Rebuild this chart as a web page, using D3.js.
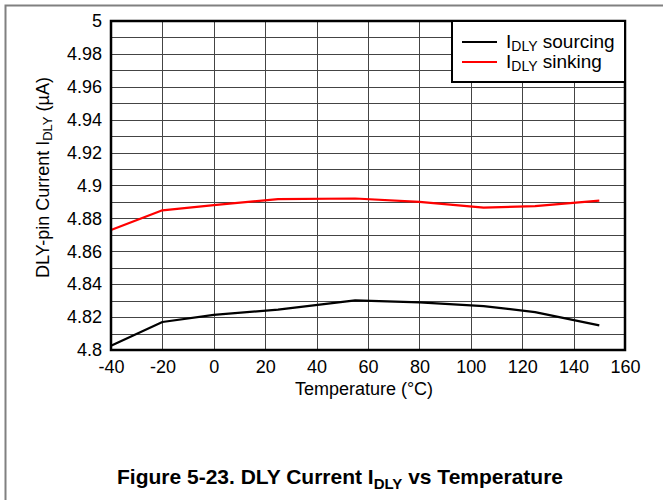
<!DOCTYPE html>
<html>
<head>
<meta charset="utf-8">
<script src="https://cdn.jsdelivr.net/npm/d3@7/dist/d3.min.js"></script>
<style>
  html, body { margin: 0; padding: 0; background: #fff; }
  svg { display: block; font-family: "Liberation Sans", Arial, sans-serif; }
</style>
</head>
<body>
<svg id="chart" width="663" height="500"></svg>
<script>
// Temperature sweep points (°C)
const temps = [-40, -20, 0, 25, 55, 80, 105, 125, 150];
// DLY pin current (µA)
const sourcing = [4.8026, 4.8170, 4.8214, 4.8245, 4.8302, 4.8290, 4.8267, 4.8230, 4.8150];
const sinking  = [4.8729, 4.8849, 4.8881, 4.8917, 4.8921, 4.8901, 4.8865, 4.8875, 4.8908];
// Axis ticks
const xTicks = [-40, -20, 0, 20, 40, 60, 80, 100, 120, 140, 160];
const yTicks = [4.8, 4.82, 4.84, 4.86, 4.88, 4.9, 4.92, 4.94, 4.96, 4.98, 5];
const yGrid = d3.range(0, 21).map(i => +(4.8 + i * 0.01).toFixed(2));
const seriesNames = ["sourcing", "sinking"];
const seriesColors = ["#000000", "#ff0000"];

const FONT = "Liberation Sans, Arial, sans-serif";
const svg = d3.select("#chart");
const plot = { left: 111, right: 625, top: 21, bottom: 350 };

const x = d3.scaleLinear().domain([-40, 160]).range([plot.left, plot.right]);
const y = d3.scaleLinear().domain([4.8, 5]).range([plot.bottom, plot.top]);

// Outer figure frame (left and top edges)
svg.append("path")
  .attr("d", "M5.5,500 V5.5 H663")
  .attr("fill", "none").attr("stroke", "#808080").attr("stroke-width", 2);

// Grid
const grid = svg.append("g");
grid.selectAll("line.h").data(yGrid).join("line")
  .attr("x1", plot.left).attr("x2", plot.right)
  .attr("y1", d => Math.round(y(d)) + 0.5).attr("y2", d => Math.round(y(d)) + 0.5)
  .attr("stroke", "#444").attr("stroke-width", 1);
grid.selectAll("line.v").data(xTicks).join("line")
  .attr("y1", plot.top).attr("y2", plot.bottom)
  .attr("x1", d => Math.round(x(d)) + 0.5).attr("x2", d => Math.round(x(d)) + 0.5)
  .attr("stroke", "#444").attr("stroke-width", 1);

// Axes (labels only; the frame is drawn separately)
const xAxis = svg.append("g")
  .attr("transform", `translate(0,${plot.bottom})`)
  .call(d3.axisBottom(x).tickValues(xTicks).tickSize(0).tickPadding(10)
    .tickFormat(d => String(d)));
xAxis.select(".domain").remove();
xAxis.selectAll("text").attr("font-size", 18).attr("fill", "#000").attr("font-family", FONT);

const yAxis = svg.append("g")
  .attr("transform", `translate(${plot.left},0)`)
  .call(d3.axisLeft(y).tickValues(yTicks).tickSize(0).tickPadding(9)
    .tickFormat(d => String(+d.toFixed(2))));
yAxis.select(".domain").remove();
yAxis.selectAll("text").attr("font-size", 18).attr("fill", "#000").attr("font-family", FONT);

// Data lines
const line = d3.line().x((d, i) => x(temps[i])).y(d => y(d));
[sourcing, sinking].forEach((vals, k) => {
  svg.append("path").datum(vals)
    .attr("d", line)
    .attr("fill", "none")
    .attr("stroke", seriesColors[k])
    .attr("stroke-width", 2.2)
    .attr("stroke-linejoin", "round");
});

// Plot frame
svg.append("rect")
  .attr("x", plot.left).attr("y", plot.top)
  .attr("width", plot.right - plot.left).attr("height", plot.bottom - plot.top)
  .attr("fill", "none").attr("stroke", "#000").attr("stroke-width", 2.5);

// Legend
const lg = svg.append("g");
lg.append("rect")
  .attr("x", 452).attr("y", plot.top).attr("width", plot.right - 452).attr("height", 61)
  .attr("fill", "#fff").attr("stroke", "#000").attr("stroke-width", 2);
seriesNames.forEach((name, k) => {
  const yy = 42 + k * 20;
  lg.append("line").attr("x1", 462).attr("x2", 497).attr("y1", yy).attr("y2", yy)
    .attr("stroke", seriesColors[k]).attr("stroke-width", 2);
  const t = lg.append("text").attr("x", 506).attr("y", yy + 6)
    .attr("font-size", 19).attr("fill", "#000");
  t.append("tspan").text("I");
  t.append("tspan").attr("font-size", 14).attr("dy", 3).text("DLY");
  t.append("tspan").attr("dy", -3).text(" " + name);
});

// X axis title
svg.append("text")
  .attr("x", 364).attr("y", 395).attr("text-anchor", "middle")
  .attr("font-size", 18).attr("fill", "#000")
  .text("Temperature (°C)");

// Y axis title
const yt = svg.append("text")
  .attr("transform", `translate(49,${(plot.top + plot.bottom) / 2 - 8}) rotate(-90)`)
  .attr("text-anchor", "middle").attr("font-size", 18).attr("fill", "#000");
yt.append("tspan").text("DLY-pin Current I");
yt.append("tspan").attr("font-size", 13).attr("dy", 3).text("DLY");
yt.append("tspan").attr("dy", -3).text(" (µA)");

// Figure caption
const cap = svg.append("text")
  .attr("x", 340).attr("y", 484).attr("text-anchor", "middle")
  .attr("font-size", 21).attr("font-weight", "bold").attr("fill", "#000");
cap.append("tspan").text("Figure 5-23. DLY Current I");
cap.append("tspan").attr("font-size", 15).attr("dy", 5).text("DLY");
cap.append("tspan").attr("dy", -5).text(" vs Temperature");
</script>
</body>
</html>
